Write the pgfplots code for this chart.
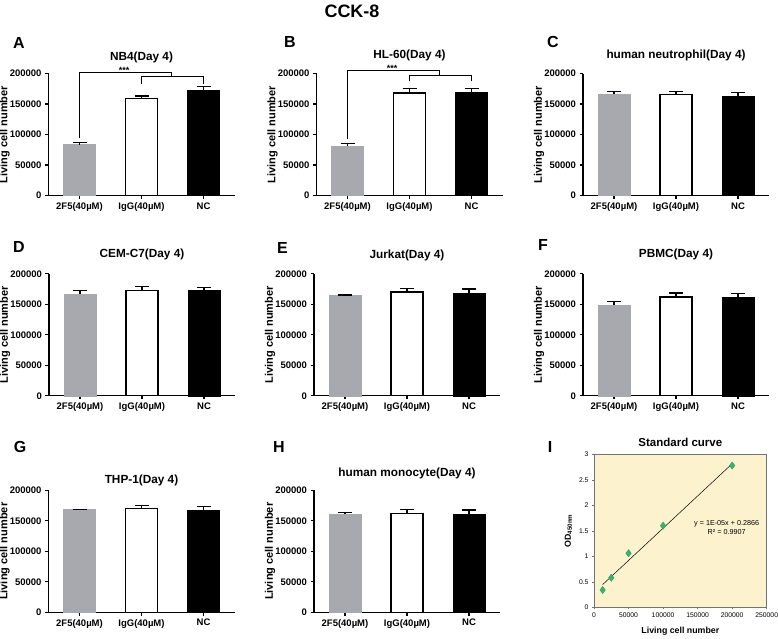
\documentclass[border=0pt]{standalone}
\usepackage{pgfplots}
\pgfplotsset{compat=1.18}
\usepackage{fontspec}
\setmainfont{Liberation Sans}

\definecolor{barGray}{RGB}{167,169,174}
\definecolor{plotYellow}{RGB}{252,242,206}
\definecolor{ptGreen}{RGB}{62,182,80}
\definecolor{ptEdge}{RGB}{40,150,150}

\tikzset{lett/.style={font=\bfseries\fontsize{16}{18}\selectfont}}
\pgfplotsset{
 every axis title shift=0pt,
 barax/.style={
  scale only axis, width=186pt, height=122pt, anchor=south west,
  xmin=-0.5, xmax=2.5, ymin=0, ymax=200000,
  scaled y ticks=false, scaled x ticks=false,
  axis lines*=left, axis line style={line width=1.3pt},
  xtick={0,1,2}, xticklabels={2F5(40µM),IgG(40µM),NC},
  ytick={0,50000,100000,150000,200000},
  yticklabels={0,50000,100000,150000,200000},
  tick align=outside, major tick length=3.5pt,
  tick style={line width=1.3pt,black},
  ticklabel style={font=\bfseries\fontsize{9.5}{10}\selectfont},
  ylabel={Living cell number},
  ylabel style={font=\bfseries\fontsize{11}{12}\selectfont,
    at={(axis description cs:0,0.5)}, anchor=center, yshift=44pt},
  title style={font=\bfseries\fontsize{11.8}{13}\selectfont,
    at={(axis description cs:0.5,1)}, anchor=center},
  clip=false,
  error bars/y dir=plus, error bars/y explicit,
  error bars/error bar style={line width=1.3pt, black},
  error bars/error mark options={rotate=90, mark size=7pt, line width=1.3pt, black},
 },
 b1/.style={ybar, bar width=32pt, bar shift=0pt, fill=barGray, draw=barGray},
 b2/.style={ybar, bar width=32pt, bar shift=0pt, fill=white, draw=black, line width=1.3pt},
 b3/.style={ybar, bar width=32pt, bar shift=0pt, fill=black, draw=black},
}

\begin{document}
\begin{tikzpicture}
\useasboundingbox (0,0) rectangle (778pt,638pt);

\node[font=\bfseries\fontsize{18}{20}\selectfont] at (352pt,627pt) {CCK-8};

% letters
\node[lett] at (19pt,595.5pt) {A};
\node[lett] at (290pt,595.7pt) {B};
\node[lett] at (553pt,596.3pt) {C};
\node[lett] at (19pt,391.3pt) {D};
\node[lett] at (282.5pt,390.5pt) {E};
\node[lett] at (543pt,393pt) {F};
\node[lett] at (20pt,191.3pt) {G};
\node[lett] at (279pt,191pt) {H};
\node[lett] at (550pt,191pt) {I};

% A
\begin{axis}[barax, at={(48.5pt,442.5pt)}, title={NB4(Day 4)}, title style={yshift=16.5pt}]
\addplot[b1] coordinates {(0,83400) +- (0,3200)};
\addplot[b2] coordinates {(1,159100) +- (0,3900)};
\addplot[b3] coordinates {(2,172000) +- (0,7200)};
\draw[line width=1.2pt] (axis cs:0,93700) -- (axis cs:0,201000) -- (axis cs:1.48,201000) -- (axis cs:1.48,194500);
\draw[line width=1.2pt] (axis cs:1,183500) -- (axis cs:1,194500) -- (axis cs:2,194500) -- (axis cs:2,182000);
\node[font=\bfseries\fontsize{9}{10}\selectfont] at (axis cs:0.72,205000) {***};
\end{axis}

% B
\begin{axis}[barax, at={(316.5pt,442.5pt)}, title={HL-60(Day 4)}, title style={yshift=18pt}]
\addplot[b1] coordinates {(0,80500) +- (0,5000)};
\addplot[b2] coordinates {(1,168000) +- (0,7000)};
\addplot[b3] coordinates {(2,169500) +- (0,6000)};
\draw[line width=1.2pt] (axis cs:0,92800) -- (axis cs:0,205000) -- (axis cs:1.48,205000) -- (axis cs:1.48,197200);
\draw[line width=1.2pt] (axis cs:1,187000) -- (axis cs:1,197200) -- (axis cs:2,197200) -- (axis cs:2,187000);
\node[font=\bfseries\fontsize{9}{10}\selectfont] at (axis cs:0.72,209000) {***};
\end{axis}

% C
\begin{axis}[barax, at={(583pt,442.5pt)}, title={human neutrophil(Day 4)}, title style={yshift=18pt}]
\addplot[b1] coordinates {(0,166400) +- (0,3800)};
\addplot[b2] coordinates {(1,165300) +- (0,4900)};
\addplot[b3] coordinates {(2,162600) +- (0,6000)};
\end{axis}

% D
\begin{axis}[barax, at={(49pt,242.2pt)}, title={CEM-C7(Day 4)}, title style={yshift=19pt}]
\addplot[b1] coordinates {(0,166200) +- (0,6000)};
\addplot[b2] coordinates {(1,172800) +- (0,5900)};
\addplot[b3] coordinates {(2,173300) +- (0,4400)};
\end{axis}

% E
\begin{axis}[barax, at={(314pt,242.2pt)}, title={Jurkat(Day 4)}, title style={yshift=18.5pt}]
\addplot[b1] coordinates {(0,164600) +- (0,800)};
\addplot[b2] coordinates {(1,170000) +- (0,6300)};
\addplot[b3] coordinates {(2,168400) +- (0,6500)};
\end{axis}

% F
\begin{axis}[barax, at={(583pt,242.2pt)}, title={PBMC(Day 4)}, title style={yshift=19pt}]
\addplot[b1] coordinates {(0,149300) +- (0,4900)};
\addplot[b2] coordinates {(1,161900) +- (0,6500)};
\addplot[b3] coordinates {(2,161300) +- (0,6000)};
\end{axis}

% G
\begin{axis}[barax, at={(48.5pt,25.7pt)}, title={THP-1(Day 4)}, title style={yshift=10pt}]
\addplot[b1] coordinates {(0,168400) +- (0,700)};
\addplot[b2] coordinates {(1,170000) +- (0,4900)};
\addplot[b3] coordinates {(2,166800) +- (0,6500)};
\end{axis}

% H
\begin{axis}[barax, at={(314pt,25.7pt)}, title={human monocyte(Day 4)}, title style={yshift=17pt}]
\addplot[b1] coordinates {(0,161600) +- (0,2200)};
\addplot[b2] coordinates {(1,161600) +- (0,6600)};
\addplot[b3] coordinates {(2,160500) +- (0,7200)};
\end{axis}

% I
\begin{axis}[scale only axis, width=172.7pt, height=153pt, anchor=south west, at={(594pt,30.7pt)},
  xmin=0, xmax=250000, ymin=0, ymax=3,
  scaled y ticks=false, scaled x ticks=false,
  axis background/.style={fill=plotYellow},
  axis line style={black!55, line width=0.6pt},
  xtick={0,50000,100000,150000,200000,250000},
  xticklabels={0,50000,100000,150000,200000,250000},
  ytick={0,0.5,1,1.5,2,2.5,3},
  yticklabels={0,0.5,1,1.5,2,2.5,3},
  tick align=outside, tick pos=left, major tick length=2pt,
  tick style={black!55, line width=0.6pt},
  ticklabel style={font=\fontsize{6.8}{8}\selectfont},
  title={Standard curve},
  title style={font=\bfseries\fontsize{11.5}{13}\selectfont, at={(axis description cs:0.5,1)}, anchor=center, yshift=12.3pt},
  xlabel={Living cell number},
  xlabel style={font=\bfseries\fontsize{8.8}{10}\selectfont, at={(axis description cs:0.5,0)}, anchor=center, yshift=-23.7pt},
  ylabel={OD\textsubscript{450nm}},
  ylabel style={font=\bfseries\fontsize{8.8}{10}\selectfont, at={(axis description cs:0,0.5)}, anchor=center, yshift=25.7pt},
  clip=false]
\addplot[black, line width=0.5pt] coordinates {(12500,0.445) (200000,2.815)};
\addplot[only marks, mark=diamond*, mark size=3.6pt, mark options={fill=ptGreen, draw=ptEdge, line width=0.4pt}]
  coordinates {(12500,0.34) (25000,0.58) (50000,1.06) (100000,1.60) (200000,2.78)};
\node[font=\fontsize{7.2}{8.6}\selectfont, align=center] at (axis cs:192000,1.57) {y = 1E-05x + 0.2866\\R² = 0.9907};
\end{axis}

\end{tikzpicture}
\end{document}
